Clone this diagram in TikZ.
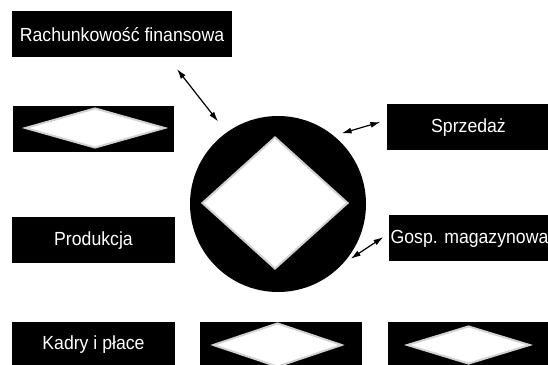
\documentclass[tikz,border=0pt]{standalone}
\usepackage{fontspec}
\newfontfamily\panelfont{Liberation Sans}[FakeStretch=0.93]
\usetikzlibrary{arrows.meta, shapes.geometric, calc}
\tikzset{
  every picture/.style={line width=1.2pt},
  panel/.style={fill=black, text=white, inner sep=0pt, minimum height=46pt, font=\panelfont\fontsize{19}{22}\selectfont},
  gem/.style={diamond, fill=white, draw=gray!35, line width=2pt, inner sep=0pt},
  link/.style={{Latex[length=10pt,width=6pt]}-{Latex[length=10pt,width=6pt]}, draw=black, line width=1.2pt},
}

\begin{document}
\begin{tikzpicture}[x=1pt, y=1pt]
  \useasboundingbox (0,0) rectangle (548,364);
  \clip (0,0) rectangle (548,364);
  % hub
  \node[circle, fill=black, inner sep=0pt, minimum size=176pt] (hub) at (278,160) {};
  \node[gem, minimum width=146pt, minimum height=132pt] (hubgem) at (275,161) {};
  % left column
  \node[panel, minimum width=220pt] (rach) at (122,329.5) {Rachunkowość finansowa};
  \node[panel, minimum width=161pt] (netL) at (93.5,235) {};
  \node[gem, minimum width=140pt, minimum height=40pt] (netLgem) at (95,236) {};
  \node[panel, minimum width=163pt] (prod) at (93.5,123.5) {Produkcja};
  \node[panel, minimum width=163pt] (kadry) at (93.5,19) {Kadry i płace};
  % right column
  \node[panel, minimum width=163pt] (sprz) at (468.5,236.5) {Sprzedaż};
  \node[panel, minimum width=161pt] (gosp) at (469.5,125.5) {Gosp. magazynowa};
  % bottom row
  \node[panel, minimum width=162pt] (netM) at (281,19) {};
  \node[gem, minimum width=129pt, minimum height=44pt] (netMgem) at (277.5,19) {};
  \node[panel, minimum width=162pt] (netR) at (469,19) {};
  \node[gem, minimum width=123pt, minimum height=38pt] (netRgem) at (468.5,19) {};
  % links
  \draw[link] ($(rach.south)+(55,-11)$) -- ($(hub)+(126:102)$);
  \draw[link] ($(hub)+(48:95)$) -- ($(sprz.west)+(-6,5.5)$);
  \draw[link] ($(hub)+(-37:91)$) -- ($(gosp.west)+(-5,1.5)$);
\end{tikzpicture}
\end{document}
